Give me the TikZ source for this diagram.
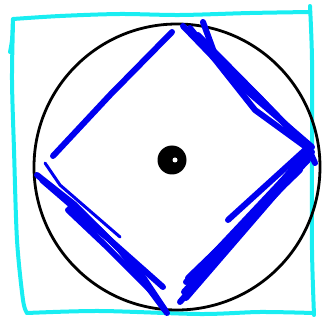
\documentclass[tikz,border=0pt]{standalone}
\usepackage{xcolor}
\definecolor{frame}{HTML}{19EEF2}
\definecolor{pen}{HTML}{0000F0}
\begin{document}
\begin{tikzpicture}[x=1pt,y=-1pt,
  framestroke/.style={frame,line width=4pt,line cap=round,line join=round},
  penstroke/.style={pen,line width=6pt,line cap=round,line join=round},
  thinpen/.style={pen,line width=3pt,line cap=round,line join=round}]
\useasboundingbox (0,0) rectangle (322,321);
% wobbly cyan frame
\draw[framestroke] plot[smooth] coordinates {(13,19) (60,16) (120,14) (180,15) (250,13) (310,12)};
\draw[framestroke] plot[smooth] coordinates {(10,52) (12,40) (13,20) (12,80) (14,150) (17,240) (23,300) (27,313)};
\draw[framestroke] plot[smooth] coordinates {(27,313) (100,311) (200,314) (260,312) (313,313)};
\draw[framestroke] plot[smooth] coordinates {(310,6) (312,60) (312,160) (312,250) (314,315)};
% circle and centre mark
\draw[line width=2.8pt] (177,167) circle (143);
\fill (172,160) circle (14.5);
\fill[white] (175,160) circle (2.5);
% diamond: top-left edge
\draw[penstroke] (172,32) -- (110,95) -- (53,156);
% top-right edge
\draw[penstroke] (183,26) -- (240,85) -- (312,147);
\draw[penstroke] (203,22) -- (214,52) -- (250,88) -- (306,145);
\draw[penstroke] (190,28) -- (255,110) -- (310,150);
\draw[penstroke] (198,35) -- (262,100) -- (300,140);
% bottom-right edge
\draw[penstroke] (310,148) -- (180,302);
\draw[penstroke] (312,152) -- (186,298);
\draw[penstroke] (305,150) -- (228,220);
\draw[penstroke] (308,160) -- (192,282);
\draw[penstroke] (300,170) -- (188,278);
\draw[penstroke] (296,166) -- (200,268);
\draw[penstroke] (290,175) -- (184,292);
\draw[penstroke] (230,240) -- (186,282);
\draw[penstroke] (310,152) -- (315,163);
% bottom-left edge
\draw[penstroke] (37,175) -- (75,205) -- (120,250) -- (167,313);
\draw[thinpen] (45,163) -- (60,185) -- (120,237);
\draw[penstroke] (70,208) -- (110,240) -- (163,287);
\draw[penstroke] (42,180) -- (100,230) -- (135,265) -- (165,310);
\draw[penstroke] (68,210) -- (105,245) -- (150,290);
\end{tikzpicture}
\end{document}
